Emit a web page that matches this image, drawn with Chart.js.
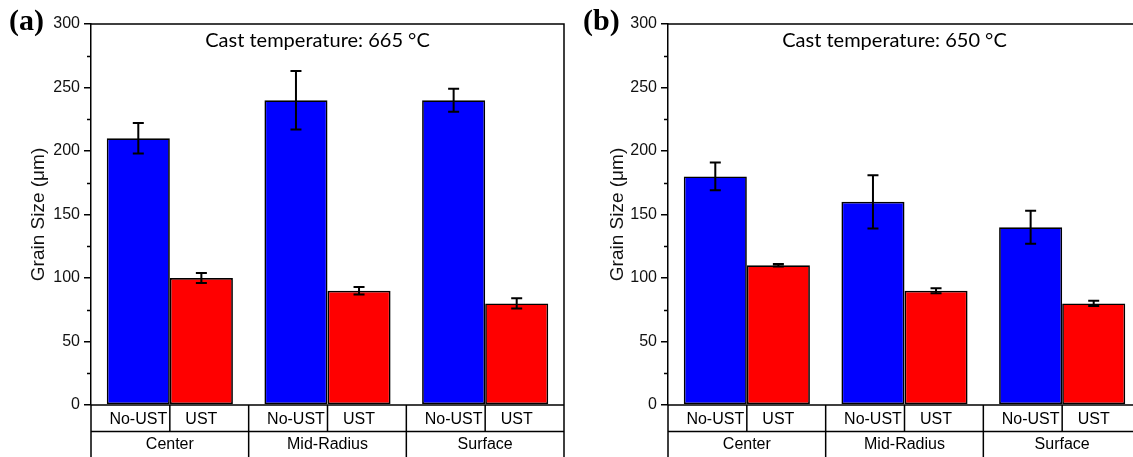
<!DOCTYPE html>
<html>
<head>
<meta charset="utf-8">
<script src="https://cdn.jsdelivr.net/npm/chart.js@4.4.1/dist/chart.umd.min.js"></script>
<style>
  html, body { margin: 0; padding: 0; background: #fff; overflow: hidden; }
  #wrap { position: relative; width: 1133px; height: 457px; overflow: hidden; }
  canvas { position: absolute; top: 0; }
  #chartA { left: 0; }
  #chartB { left: 566px; }
</style>
</head>
<body>
<div id="wrap">
  <canvas id="chartA" width="566" height="457"></canvas>
  <canvas id="chartB" width="577" height="457"></canvas>
</div>
<script>
const categories = ['Center', 'Mid-Radius', 'Surface'];
const seriesNames = ['No-UST', 'UST'];

// cast temperature 665 °C
const noUst665 = [210, 240, 240];
const noUst665Err = [12, 23, 9];
const ust665 = [100, 90, 80];
const ust665Err = [4, 3, 4];

// cast temperature 650 °C
const noUst650 = [180, 160, 140];
const noUst650Err = [11, 21, 13];
const ust650 = [110, 90, 80];
const ust650Err = [1, 2, 2];

const yMin = 0;
const yMax = 300;
const yStep = 50;

const sans = '"Liberation Sans", Arial, sans-serif';

// error bars, minor ticks, frame, category table and labels
const extras = {
  id: 'extras',
  afterDatasetsDraw(chart, args, opts) {
    const ctx = chart.ctx;
    const area = chart.chartArea;
    const y = chart.scales.y;
    const x = chart.scales.x;

    ctx.save();
    ctx.strokeStyle = '#000';

    // error bars
    ctx.lineWidth = 2;
    chart.data.datasets.forEach((ds, di) => {
      const meta = chart.getDatasetMeta(di);
      meta.data.forEach((bar, i) => {
        const v = ds.data[i], e = opts.errors[di][i];
        const top = y.getPixelForValue(v + e);
        const bot = y.getPixelForValue(v - e);
        ctx.beginPath();
        ctx.moveTo(bar.x, top); ctx.lineTo(bar.x, bot);
        ctx.moveTo(bar.x - 5.5, top); ctx.lineTo(bar.x + 5.5, top);
        ctx.moveTo(bar.x - 5.5, bot); ctx.lineTo(bar.x + 5.5, bot);
        ctx.stroke();
      });
    });

    // minor ticks
    ctx.lineWidth = 1.5;
    for (let v = yMin + yStep / 2; v < yMax; v += yStep) {
      const py = Math.round(y.getPixelForValue(v)) + 0.5;
      ctx.beginPath();
      ctx.moveTo(area.left - 4, py); ctx.lineTo(area.left, py);
      ctx.stroke();
    }

    // frame top and right
    ctx.beginPath();
    ctx.moveTo(area.left, area.top); ctx.lineTo(area.right, area.top);
    ctx.lineTo(area.right, area.bottom);
    ctx.stroke();

    // category table under the plot
    const row1 = area.bottom, row2 = area.bottom + 26.5, row3 = chart.height + 2;
    const half = (area.right - area.left) / categories.length / 2;
    ctx.beginPath();
    ctx.moveTo(area.left, row1); ctx.lineTo(area.right, row1);
    ctx.moveTo(area.left, row2); ctx.lineTo(area.right, row2);
    ctx.moveTo(area.left, area.bottom); ctx.lineTo(area.left, row3);
    categories.forEach((c, i) => {
      const cx = x.getPixelForValue(i);
      ctx.moveTo(cx, row1); ctx.lineTo(cx, row2);
      ctx.moveTo(cx + half, row1); ctx.lineTo(cx + half, row3);
    });
    ctx.stroke();

    ctx.fillStyle = '#000';
    ctx.textAlign = 'center';
    ctx.textBaseline = 'middle';
    ctx.font = '16px ' + sans;
    chart.data.datasets.forEach((ds, di) => {
      chart.getDatasetMeta(di).data.forEach(bar => {
        ctx.fillText(seriesNames[di], bar.x, (row1 + row2) / 2 + 1);
      });
    });
    categories.forEach((c, i) => {
      ctx.fillText(c, x.getPixelForValue(i), row2 + 13);
    });

    // in-plot title
    ctx.font = '20px Lato, "Open Sans", sans-serif';
    ctx.fillText(opts.title, (area.left + area.right) / 2 - 10, 41);

    // panel label
    ctx.textAlign = 'left';
    ctx.textBaseline = 'alphabetic';
    ctx.font = 'bold 30px "Liberation Serif", "Times New Roman", serif';
    ctx.fillText(opts.panel, opts.panelX, 30);

    ctx.restore();
  }
};

function makeChart(id, noUst, ust, noUstErr, ustErr, title, panel, panelX, axisWidth, titlePad) {
  return new Chart(document.getElementById(id), {
    type: 'bar',
    data: {
      labels: categories,
      datasets: [
        {
          label: seriesNames[0],
          data: noUst,
          backgroundColor: '#0000ff',
          borderColor: '#000',
          borderWidth: 1.7,
          borderSkipped: false
        },
        {
          label: seriesNames[1],
          data: ust,
          backgroundColor: '#ff0000',
          borderColor: '#000',
          borderWidth: 1.7,
          borderSkipped: false
        }
      ]
    },
    options: {
      responsive: false,
      animation: false,
      layout: { padding: { top: 24, right: 2, bottom: 52, left: 0 } },
      datasets: { bar: { categoryPercentage: 0.8, barPercentage: 1 } },
      plugins: {
        legend: { display: false },
        tooltip: { enabled: false },
        extras: { errors: [noUstErr, ustErr], title: title, panel: panel, panelX: panelX }
      },
      scales: {
        x: { display: false },
        y: {
          min: yMin,
          max: yMax,
          afterFit(scale) { scale.width = axisWidth; },
          ticks: {
            stepSize: yStep,
            padding: 4,
            color: '#111',
            font: { family: sans, size: 16 }
          },
          grid: {
            drawOnChartArea: false,
            tickLength: 7,
            color: '#000',
            lineWidth: 1.5
          },
          border: { display: true, color: '#000', width: 1.5 },
          title: {
            display: true,
            text: 'Grain Size (μm)',
            color: '#111',
            font: { family: sans, size: 19 },
            padding: { top: titlePad, bottom: 0 }
          }
        }
      }
    },
    plugins: [extras]
  });
}

makeChart('chartA', noUst665, ust665, noUst665Err, ust665Err,
  'Cast temperature: 665 °C', '(a)', 9, 91, 27);
makeChart('chartB', noUst650, ust650, noUst650Err, ust650Err,
  'Cast temperature: 650 °C', '(b)', 17, 102, 40);
</script>
</body>
</html>
